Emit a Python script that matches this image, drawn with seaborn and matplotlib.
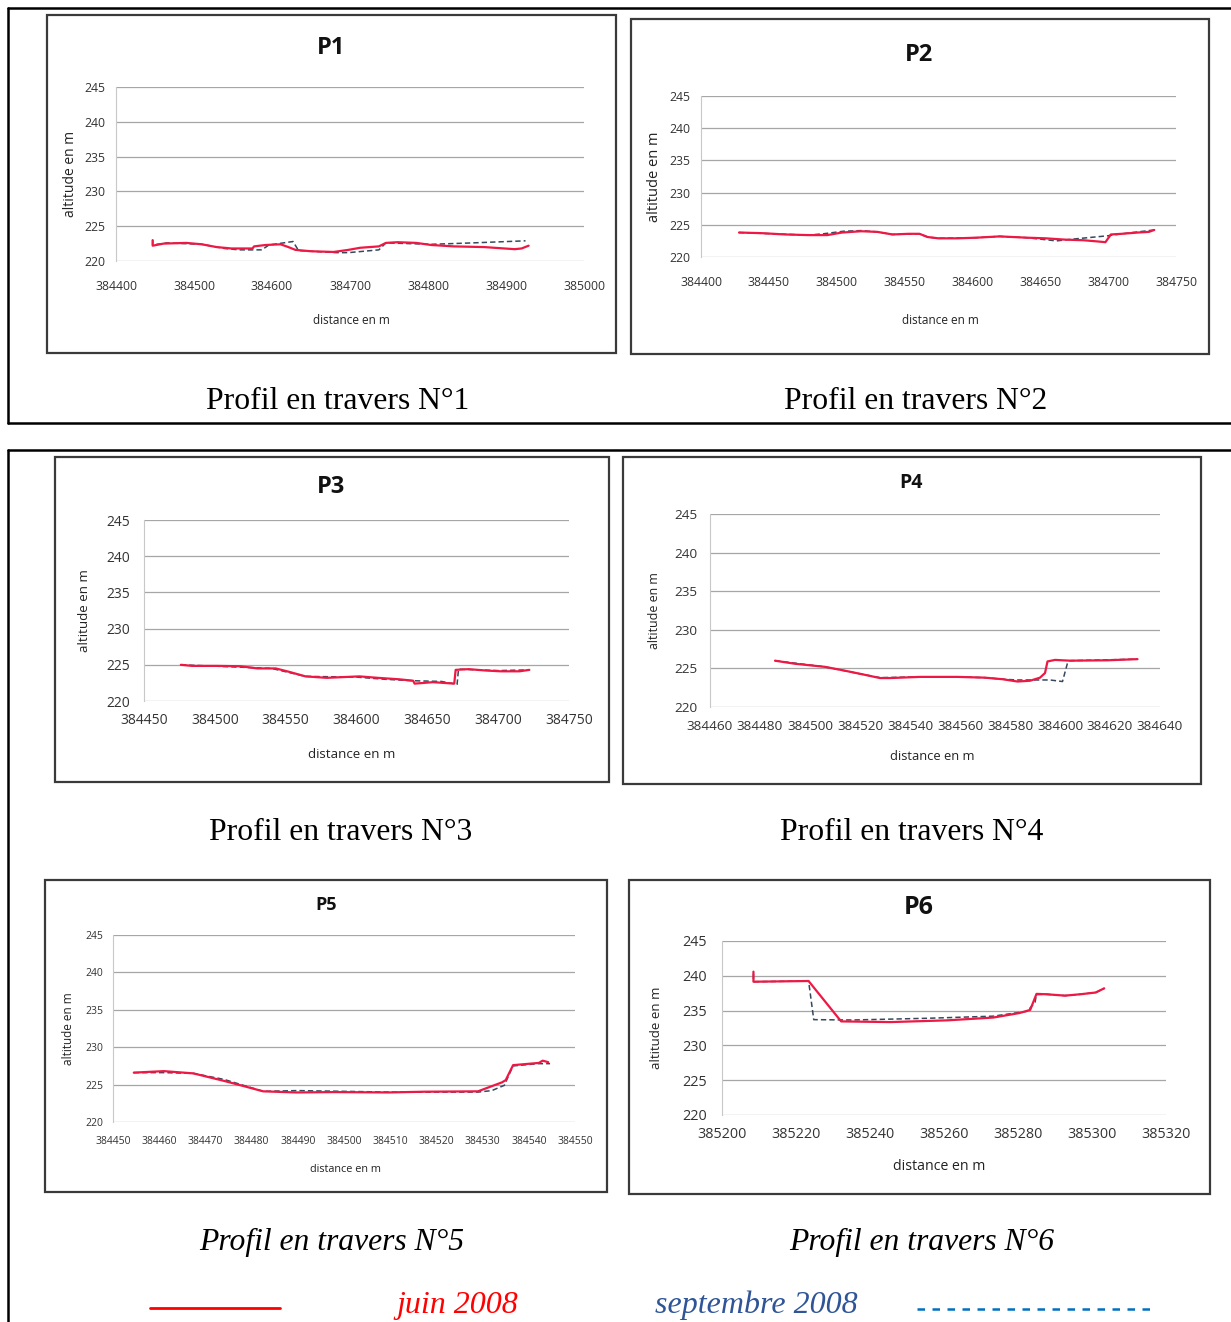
import pandas as pd
import numpy as np
import matplotlib.pyplot as plt
import matplotlib.patches as mpatches
import matplotlib.lines as mlines
import seaborn as sns

# --- data (distance en m, altitude en m) ---
p1_juin_x = [384447, 384447, 384461, 384490, 384510, 384529, 384548, 384575, 384577, 384592, 384611,
             384621, 384630, 384650, 384679, 384698, 384713, 384737, 384746, 384761, 384785, 384804,
             384833, 384872, 384911, 384920, 384929]
p1_juin_y = [223.0, 222.2, 222.5, 222.6, 222.4, 222.0, 221.8, 221.8, 222.1, 222.3, 222.4,
             222.0, 221.6, 221.4, 221.3, 221.6, 221.9, 222.1, 222.6, 222.7, 222.6, 222.3,
             222.1, 222.0, 221.7, 221.8, 222.2]
p1_sept_x = [384447, 384447, 384465, 384510, 384539, 384558, 384587, 384596, 384627, 384634, 384683,
             384698, 384737, 384746, 384804, 384857, 384925]
p1_sept_y = [223.0, 222.3, 222.6, 222.4, 221.8, 221.6, 221.6, 222.3, 222.8, 221.5, 221.2,
             221.2, 221.6, 222.6, 222.4, 222.6, 222.9]

p2_juin_x = [384428, 384445, 384462, 384479, 384493, 384504, 384518, 384530, 384541, 384553, 384561,
             384567, 384575, 384589, 384603, 384620, 384640, 384654, 384668, 384682, 384693, 384698,
             384702, 384710, 384722, 384730, 384734]
p2_juin_y = [223.8, 223.7, 223.5, 223.4, 223.4, 223.8, 224.0, 223.9, 223.5, 223.6, 223.6,
             223.1, 222.9, 222.9, 223.0, 223.2, 223.0, 222.9, 222.7, 222.6, 222.4, 222.3,
             223.5, 223.6, 223.8, 223.9, 224.2]
p2_sept_x = [384428, 384479, 384490, 384505, 384518, 384530, 384541, 384561, 384567, 384575, 384603,
             384620, 384640, 384662, 384675, 384690, 384700, 384710, 384734]
p2_sept_y = [223.8, 223.4, 223.6, 224.0, 224.1, 223.9, 223.5, 223.6, 223.1, 222.9, 223.0,
             223.2, 223.0, 222.5, 222.8, 223.1, 223.3, 223.6, 224.2]

p3_juin_x = [384476, 384484, 384502, 384518, 384530, 384543, 384553, 384564, 384579, 384602, 384615,
             384630, 384640, 384641, 384654, 384669, 384670, 384679, 384692, 384702, 384715, 384722]
p3_juin_y = [225.0, 224.85, 224.85, 224.8, 224.5, 224.5, 224.0, 223.4, 223.2, 223.4, 223.2,
             223.0, 222.8, 222.4, 222.6, 222.4, 224.3, 224.4, 224.2, 224.1, 224.1, 224.3]
p3_sept_x = [384476, 384540, 384564, 384600, 384620, 384640, 384660, 384671, 384672, 384700, 384722]
p3_sept_y = [225.0, 224.5, 223.4, 223.3, 223.0, 222.8, 222.7, 222.3, 224.4, 224.2, 224.3]

p4_juin_x = [384486, 384494, 384506, 384514, 384520, 384528, 384532, 384544, 384559, 384570, 384577,
             384583, 384588, 384592, 384594, 384595, 384598, 384604, 384619, 384631]
p4_juin_y = [226.0, 225.6, 225.2, 224.7, 224.3, 223.75, 223.75, 223.9, 223.9, 223.8, 223.6,
             223.3, 223.4, 223.8, 224.4, 225.9, 226.1, 226.0, 226.05, 226.2]
p4_sept_x = [384486, 384506, 384520, 384528, 384544, 384559, 384570, 384577, 384583, 384596, 384601,
             384603, 384604, 384631]
p4_sept_y = [226.0, 225.2, 224.3, 223.8, 223.9, 223.9, 223.8, 223.6, 223.5, 223.5, 223.3,
             225.7, 226.0, 226.2]

p5_juin_x = [384454.5, 384461, 384467.4, 384474, 384478.6, 384482.5, 384489.7, 384497.7, 384509.6,
             384517.5, 384529, 384534.2, 384535, 384536.6, 384542.2, 384543, 384544.2]
p5_juin_y = [226.6, 226.8, 226.5, 225.5, 224.75, 224.1, 223.95, 224.0, 223.95,
             224.05, 224.1, 225.3, 225.6, 227.6, 227.9, 228.2, 228.0]
p5_sept_x = [384454.5, 384461, 384467.4, 384474, 384482.5, 384490, 384510, 384529, 384532,
             384534.7, 384536, 384536.6, 384542, 384544.6]
p5_sept_y = [226.6, 226.6, 226.5, 225.7, 224.1, 224.2, 224.0, 224.0, 224.2,
             224.9, 226.7, 227.5, 227.8, 227.8]

p6_juin_x = [385208.5, 385208.5, 385223.4, 385232.2, 385245.5, 385260.9, 385273.3, 385280.4, 385283.3,
             385285, 385287.6, 385292.7, 385296.9, 385301, 385303.3]
p6_juin_y = [240.6, 239.15, 239.25, 233.45, 233.35, 233.6, 234.0, 234.65, 235.1,
             237.4, 237.35, 237.15, 237.35, 237.6, 238.2]
p6_sept_x = [385208.5, 385208.5, 385223.4, 385224.8, 385235.2, 385255.8, 385273.3, 385282.5, 385284.6,
             385285, 385287.6, 385292.7, 385296.9, 385301, 385303.3]
p6_sept_y = [240.3, 239.15, 239.25, 233.7, 233.65, 233.9, 234.2, 234.9, 236.2,
             237.3, 237.35, 237.15, 237.35, 237.6, 238.2]

p1_xticks = [384400, 384500, 384600, 384700, 384800, 384900, 385000]
p2_xticks = [384400, 384450, 384500, 384550, 384600, 384650, 384700, 384750]
p3_xticks = [384450, 384500, 384550, 384600, 384650, 384700, 384750]
p4_xticks = [384460, 384480, 384500, 384520, 384540, 384560, 384580, 384600, 384620, 384640]
p5_xticks = [384450, 384460, 384470, 384480, 384490, 384500, 384510, 384520, 384530, 384540, 384550]
p6_xticks = [385200, 385220, 385240, 385260, 385280, 385300, 385320]
yticks = [220, 225, 230, 235, 240, 245]

captions = ["Profil en travers N°1", "Profil en travers N°2", "Profil en travers N°3",
            "Profil en travers N°4", "Profil en travers N°5", "Profil en travers N°6"]
series = ["juin 2008", "septembre 2008"]

RED = "#EE1844"
DASH = "#34495E"

sns.set_style("white")
plt.rcParams["font.family"] = ["Open Sans", "DejaVu Sans"]
SANS = ["Open Sans", "DejaVu Sans"]
SERIF = ["Liberation Serif", "DejaVu Serif"]

W, H = 1231, 1322
fig = plt.figure(figsize=(W / 100, H / 100), dpi=100)


def fx(x):
    return x / W


def fy(y):
    return 1 - y / H


def fline(x0, y0, x1, y1, **kw):
    fig.add_artist(mlines.Line2D([fx(x0), fx(x1)], [fy(y0), fy(y1)], transform=fig.transFigure, **kw))


# panel layout in pixels: frame box, plot area, title, label placement, fonts
panels = [
    dict(name="P1", jx=p1_juin_x, jy=p1_juin_y, sx=p1_sept_x, sy=p1_sept_y, xt=p1_xticks,
         box=(47, 15, 616, 353), area=(116, 87, 584, 261), title=(331, 48), tsize=17,
         ylab_x=70, xlab_y=321, tick=8.8, ylab=10, xlab=8.5, xpad=14, ypad=8),
    dict(name="P2", jx=p2_juin_x, jy=p2_juin_y, sx=p2_sept_x, sy=p2_sept_y, xt=p2_xticks,
         box=(631, 19, 1209, 354), area=(701, 96, 1176, 257), title=(919, 55), tsize=17,
         ylab_x=655, xlab_y=321, tick=8.8, ylab=10.5, xlab=8.5, xpad=14, ypad=8),
    dict(name="P3", jx=p3_juin_x, jy=p3_juin_y, sx=p3_sept_x, sy=p3_sept_y, xt=p3_xticks,
         box=(55, 457, 609, 782), area=(144, 520, 569, 701), title=(331, 487), tsize=17,
         ylab_x=85, xlab_y=755, tick=10, ylab=9.6, xlab=9.6, xpad=9, ypad=10),
    dict(name="P4", jx=p4_juin_x, jy=p4_juin_y, sx=p4_sept_x, sy=p4_sept_y, xt=p4_xticks,
         box=(623, 457, 1201, 784), area=(710, 514, 1160, 707), title=(911, 483), tsize=14,
         ylab_x=654, xlab_y=757, tick=9.7, ylab=8.9, xlab=9.3, xpad=9, ypad=9),
    dict(name="P5", jx=p5_juin_x, jy=p5_juin_y, sx=p5_sept_x, sy=p5_sept_y, xt=p5_xticks,
         box=(45, 880, 607, 1192), area=(113, 935, 575, 1122), title=(326, 905), tsize=13,
         ylab_x=69, xlab_y=1169, tick=7.5, ylab=8.5, xlab=7.8, xpad=10, ypad=7),
    dict(name="P6", jx=p6_juin_x, jy=p6_juin_y, sx=p6_sept_x, sy=p6_sept_y, xt=p6_xticks,
         box=(629, 880, 1210, 1194), area=(722, 941, 1166, 1115), title=(919, 908), tsize=18,
         ylab_x=657, xlab_y=1167, tick=10.4, ylab=9.5, xlab=10.2, xpad=9, ypad=11),
]

for p in panels:
    bx0, by0, bx1, by1 = p["box"]
    fig.add_artist(mpatches.Rectangle((fx(bx0), fy(by1)), fx(bx1 - bx0), (by1 - by0) / H,
                                      transform=fig.transFigure, facecolor="none",
                                      edgecolor="#3A3A3A", linewidth=1.6, zorder=0))
    ax0, ay0, ax1, ay1 = p["area"]
    ax = fig.add_axes([fx(ax0), fy(ay1), fx(ax1 - ax0), (ay1 - ay0) / H])
    ax.set_facecolor("none")

    df = pd.concat([
        pd.DataFrame({"x": p["sx"], "y": p["sy"], "campagne": series[1]}),
        pd.DataFrame({"x": p["jx"], "y": p["jy"], "campagne": series[0]}),
    ], ignore_index=True)
    sns.lineplot(data=df, x="x", y="y", hue="campagne", style="campagne",
                 hue_order=[series[1], series[0]], style_order=[series[1], series[0]],
                 palette={series[0]: RED, series[1]: DASH},
                 dashes={series[0]: "", series[1]: (3.5, 2.0)},
                 sort=False, estimator=None, legend=False, ax=ax)
    for ln in ax.lines:
        if str(ln.get_color()).lower() == RED.lower():
            ln.set_linewidth(1.6)
            ln.set_zorder(3)
        else:
            ln.set_linewidth(1.1)
            ln.set_zorder(2)

    ax.set_xlim(p["xt"][0], p["xt"][-1])
    ax.set_ylim(220, 245)
    ax.set_xticks(p["xt"])
    ax.set_yticks(yticks)
    ax.set_xticklabels([str(v) for v in p["xt"]], family=SANS, fontsize=p["tick"], color="#333333")
    ax.set_yticklabels([str(v) for v in yticks], family=SANS, fontsize=p["tick"], color="#333333")
    ax.tick_params(axis="x", length=0, pad=p["xpad"])
    ax.tick_params(axis="y", length=0, pad=p["ypad"])
    ax.grid(axis="y", color="#A6A6A6", linewidth=0.9)
    ax.grid(axis="x", visible=False)
    for s in ["top", "right", "bottom"]:
        ax.spines[s].set_visible(False)
    ax.spines["left"].set_color("#C8C8C8")
    ax.spines["left"].set_linewidth(0.8)

    ax.set_ylabel("altitude en m", family=SANS, fontsize=p["ylab"], color="#222222")
    ax.set_xlabel("distance en m", family=SANS, fontsize=p["xlab"], color="#222222")
    ax.yaxis.set_label_coords((p["ylab_x"] - ax0) / (ax1 - ax0), 0.5)
    ax.xaxis.set_label_coords(0.5 + ((bx0 + bx1) / 2 + 20 - (ax0 + ax1) / 2) / (ax1 - ax0),
                              (ay1 - p["xlab_y"]) / (ay1 - ay0))
    ax.xaxis.label.set_va("center")
    ax.yaxis.label.set_va("center")

    tx, ty = p["title"]
    fig.text(fx(tx), fy(ty), p["name"], ha="center", va="center", family=SANS,
             fontsize=p["tsize"], fontweight="bold", color="#111111")

# captions under each pair of charts
cap_pos = [(338, 401), (916, 401), (341, 832), (912, 832), (332, 1242), (922, 1242)]
for i, (cx, cy) in enumerate(cap_pos):
    fig.text(fx(cx), fy(cy), captions[i], ha="center", va="center", family=SERIF,
             fontsize=22.8, style="italic" if i >= 4 else "normal", color="black")

# outer boxes
fline(8, 8, W, 8, color="black", linewidth=1.8)
fline(8, 8, 8, 423, color="black", linewidth=1.8)
fline(8, 423, W, 423, color="black", linewidth=1.8)
fline(8, 450, W, 450, color="black", linewidth=1.8)
fline(8, 450, 8, H, color="black", linewidth=1.8)

# legend strip at the bottom
fline(150, 1308, 280, 1308, color="#FF0000", linewidth=2.0)
fig.text(fx(457), fy(1305), series[0], ha="center", va="center", family=SERIF,
         fontsize=23, style="italic", color="#FF0000")
fig.text(fx(756), fy(1305), series[1], ha="center", va="center", family=SERIF,
         fontsize=23, style="italic", color="#2F5597")
fline(917, 1309, 1150, 1309, color="#0070C0", linewidth=1.8, linestyle=(0, (3, 3)))

plt.savefig("out.png", dpi=100, facecolor="white")
